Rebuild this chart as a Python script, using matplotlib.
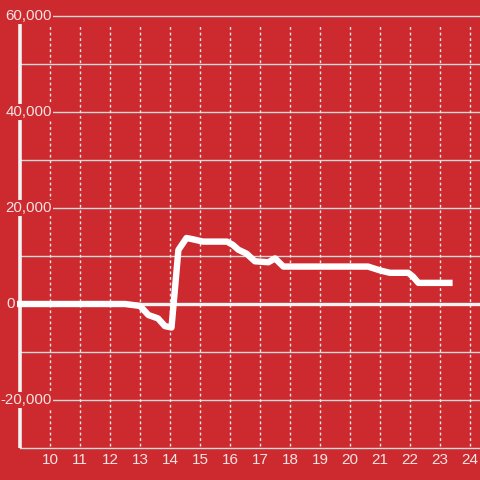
import matplotlib.pyplot as plt

# hour of day vs value
hours = [8.9, 12.5, 13.0, 13.28, 13.6, 13.83, 14.05, 14.28, 14.55, 14.75, 15.1,
         15.9, 16.1, 16.28, 16.55, 16.83, 17.28, 17.5, 17.78, 20.6, 21.0, 21.33,
         21.94, 22.1, 22.28, 23.42]
values = [0, 0, -400, -2300, -3000, -4600, -4900, 11250, 13750, 13500, 13000,
          13000, 12300, 11300, 10500, 8900, 8700, 9500, 7800, 7800, 7000, 6500,
          6500, 5700, 4400, 4400]

x_ticks = list(range(10, 25))
y_ticks = [60000, 40000, 20000, 0, -20000]
y_grid = list(range(-30000, 60001, 10000))

bg = '#cc2a2f'
txt = '#f7e3e3'
plt.rcParams['font.family'] = ['Liberation Sans', 'DejaVu Sans']

fig = plt.figure(figsize=(4.8, 4.8), dpi=100, facecolor=bg)
ax = fig.add_axes([0, 0, 1, 1])
ax.set_facecolor(bg)
ax.set_xlim(9 - 20 / 30, 24 + 1 / 3)
ax.set_ylim(-30000 - 32 / 48 * 10000, 60000 + 16 / 48 * 10000)
ax.axis('off')

# horizontal grid
for g in y_grid:
    if g == 0:
        continue
    ax.plot([9, 25], [g, g], color='#d9d9d9', lw=1, zorder=1)

# vertical dotted grid
for h in x_ticks:
    ax.plot([h, h], [-29600, 58300], color='#e8e8e8', lw=1,
            linestyle=(0, (2, 2)), zorder=1)

# axis line and zero line
ax.plot([9, 9], [-30000, 58300], color='#f2f2f2', lw=2.6, zorder=2,
        solid_capstyle='butt')
ax.plot([8.9, 25], [0, 0], color='#f2f2f2', lw=2.4, zorder=2,
        solid_capstyle='butt')

# data line
ax.plot(hours, values, color='white', lw=4.6, zorder=4,
        solid_joinstyle='round', solid_capstyle='butt')

# y labels (masking the axis line)
for v in y_ticks:
    if v == 0:
        ax.text(8.84, v, '0', ha='right', va='center', color=txt,
                fontsize=10.8, zorder=3)
        continue
    ax.text(10.07, v, f'{v:,}', ha='right', va='center', color=txt,
            fontsize=10.8, zorder=3,
            bbox=dict(facecolor=bg, edgecolor='none', pad=0.6))

# x labels
for h in x_ticks:
    ax.text(h, -32600, str(h), ha='center', va='center', color=txt,
            fontsize=11, zorder=3)

plt.savefig('out.png', dpi=100, facecolor=bg)
